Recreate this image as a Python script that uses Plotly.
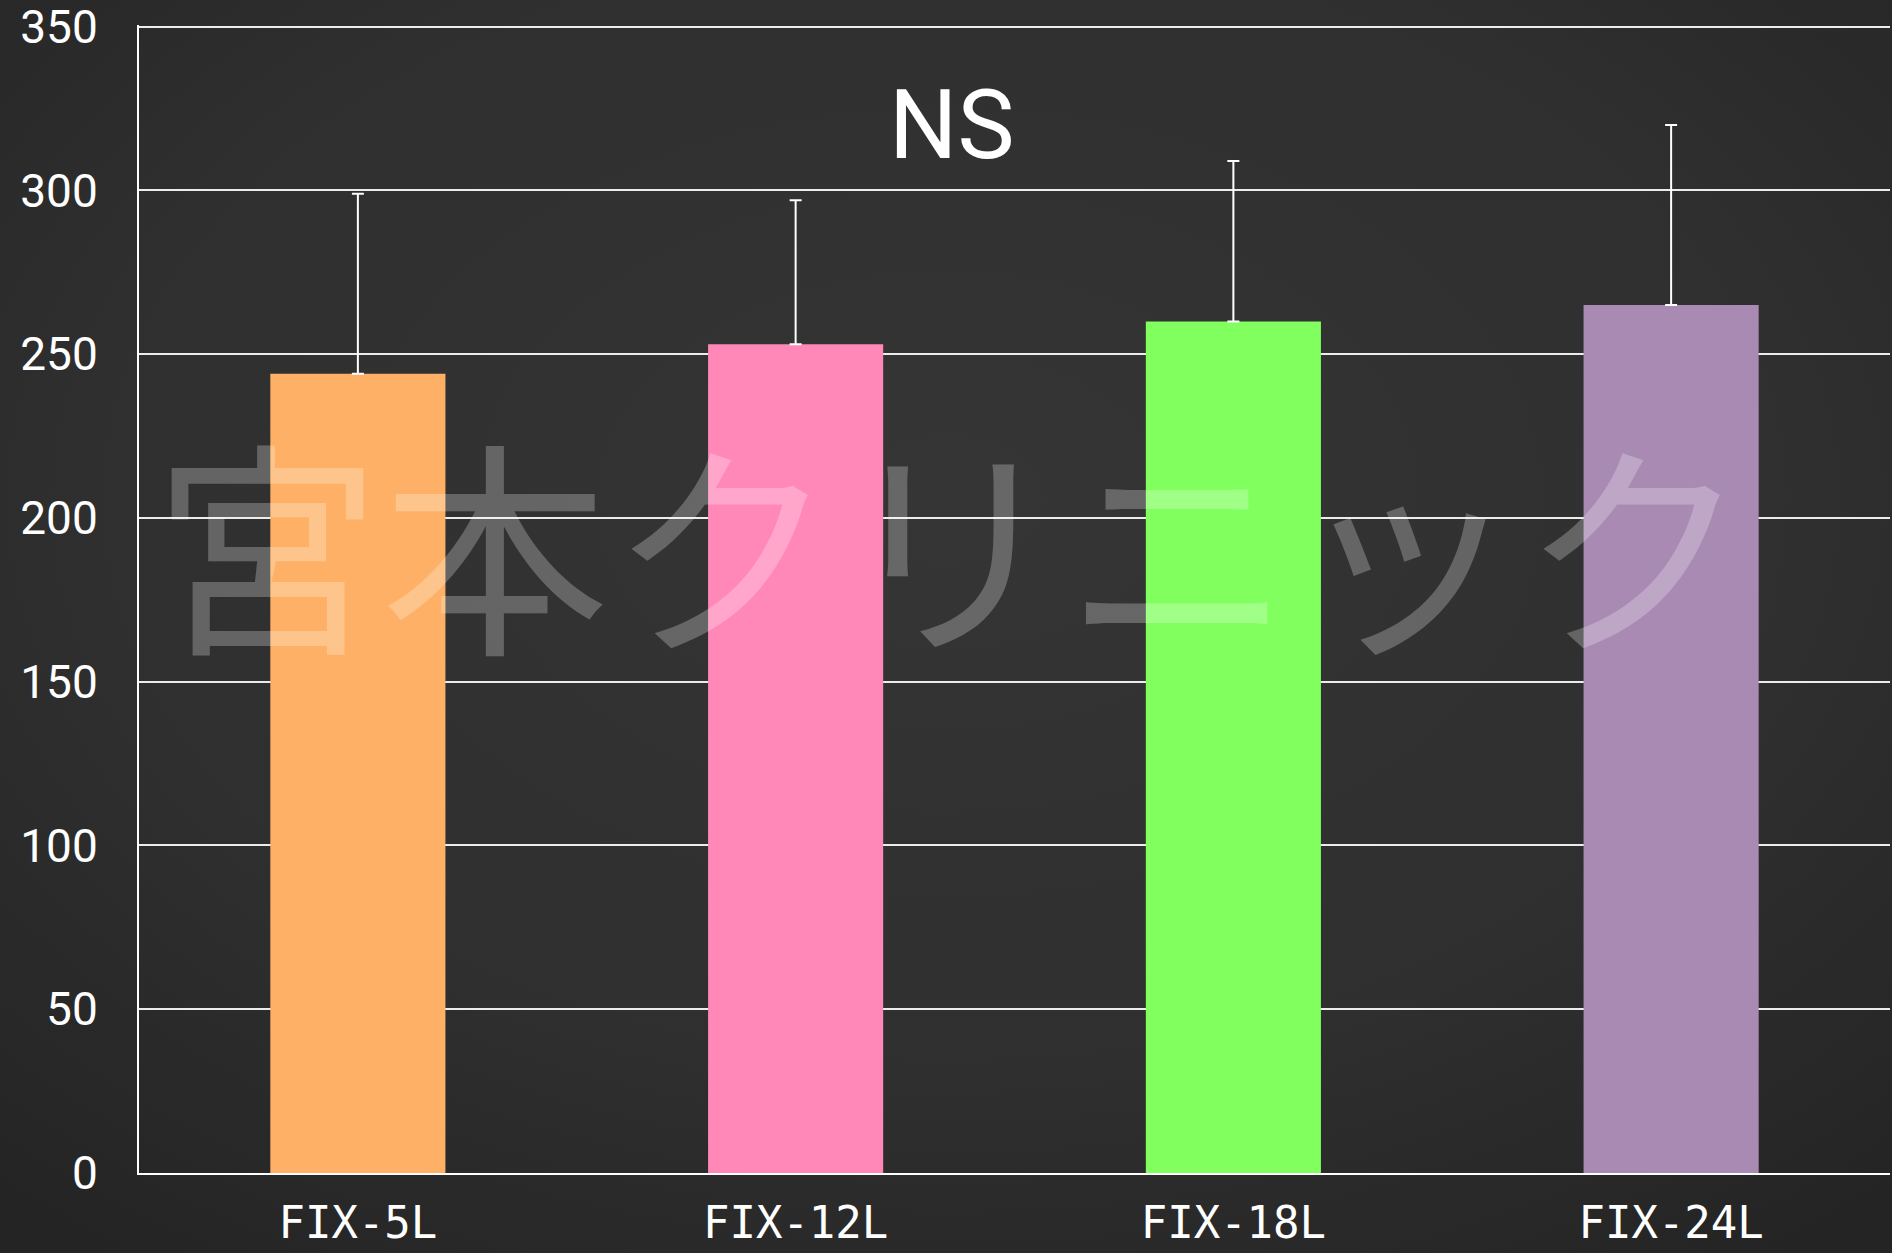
import plotly.graph_objects as go
from urllib.parse import quote

categories = ['FIX-5L', 'FIX-12L', 'FIX-18L', 'FIX-24L']
means = [244, 253, 260, 265]
sd_upper = [55, 44, 49, 55]
bar_colors = ['#fdb066', '#ff88b8', '#80ff5e', '#a98ab3']
y_ticks = [0, 50, 100, 150, 200, 250, 300, 350]

W, H = 1892, 1253
L, R, T, B = 139, 2, 25, 80
pw, ph = W - L - R, H - T - B

# chalkboard-like vignette background
svg = ('<svg xmlns="http://www.w3.org/2000/svg" width="100" height="100" preserveAspectRatio="none">'
       '<defs><radialGradient id="g" cx="50%" cy="40%" r="75%">'
       '<stop offset="0%" stop-color="#353535"/><stop offset="60%" stop-color="#2f2f2f"/>'
       '<stop offset="100%" stop-color="#242424"/></radialGradient></defs>'
       '<rect width="100" height="100" fill="url(#g)"/></svg>')
bg_src = 'data:image/svg+xml;charset=utf-8,' + quote(svg)

fig = go.Figure()
fig.add_trace(go.Bar(
    x=categories, y=means,
    marker=dict(color=bar_colors, line=dict(width=0)),
    error_y=dict(type='data', symmetric=False, array=sd_upper, arrayminus=[0] * len(sd_upper),
                 color='white', thickness=2, width=6),
))

# significance label
fig.add_annotation(text='NS', xref='paper', yref='paper', x=0.464, y=0.913, yanchor='middle',
                   showarrow=False, font=dict(family='Roboto', size=96, color='white'))

# watermark
fig.add_annotation(text='宮本クリニック', xref='paper', yref='paper', x=0.464, y=0.552, yanchor='middle',
                   showarrow=False, font=dict(family='Noto Sans CJK JP', size=228,
                                              color='rgba(255,255,255,0.25)'))

fig.add_layout_image(source=bg_src, xref='paper', yref='paper', x=-L / pw, y=1 + T / ph,
                     sizex=W / pw, sizey=H / ph, sizing='stretch', layer='below',
                     xanchor='left', yanchor='top')

fig.update_layout(
    width=W, height=H,
    paper_bgcolor='#2e2e2e', plot_bgcolor='rgba(0,0,0,0)',
    margin=dict(l=L, r=R, t=T, b=B, autoexpand=False),
    bargap=0.6,
    showlegend=False,
)
fig.update_xaxes(showline=True, linecolor='white', linewidth=2, showgrid=False,
                 tickfont=dict(family='DejaVu Sans Mono', size=44, color='white'),
                 ticklabelstandoff=10, automargin=False)
fig.update_yaxes(range=[0, 350.5], tickvals=y_ticks, showline=True, linecolor='white', linewidth=2,
                 showgrid=True, gridcolor='#ececec', gridwidth=2, zeroline=False,
                 tickfont=dict(family='Roboto', size=46, color='white'),
                 ticklabelstandoff=30, ticklabeloverflow='allow', automargin=False)

fig.write_html('out.html', config={'displayModeBar': False},
               post_script="document.body.style.margin='0';"
                           "document.body.style.background='#2e2e2e';")
